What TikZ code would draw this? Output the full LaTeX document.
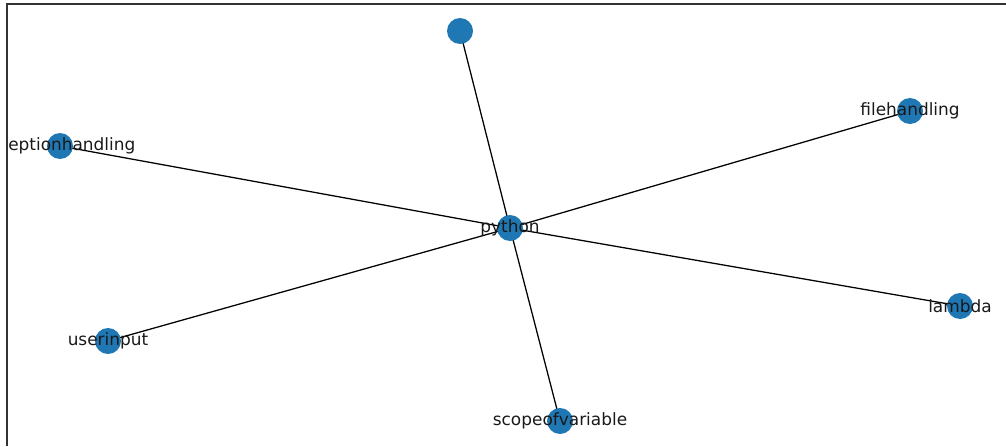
\documentclass[tikz,border=0pt]{standalone}
\usepackage{fontspec}
\setmainfont{DejaVu Sans}
\usetikzlibrary{backgrounds}
\definecolor{nodeblue}{HTML}{1F77B4}
\begin{document}
\begin{tikzpicture}[x=0.75pt,y=-0.75pt,
  vert/.style={circle,fill=nodeblue,draw=none,minimum size=19.5pt,inner sep=0pt},
  lbl/.style={font=\fontsize{12.7}{14}\selectfont,text=black!90,inner sep=0pt},
  edge/.style={draw=black,line width=0.95pt}]
  \useasboundingbox (0,0) rectangle (1006,446);
  % vertices
  \node[vert] (top) at (460,31) {};
  \node[vert] (exc) at (60,146) {};
  \node[vert] (file) at (910,111) {};
  \node[vert] (py) at (510,228) {};
  \node[vert] (user) at (108,341) {};
  \node[vert] (lam) at (960,306) {};
  \node[vert] (scope) at (560,421) {};
  % edges, kept behind the vertices
  \begin{scope}[on background layer]
    \foreach \v in {top,exc,file,user,lam,scope}
      \draw[edge] (py.center) -- (\v.center);
  \end{scope}
  % labels
  \node[lbl,anchor=west] (texc) at (8,146) {eptionhandling};
  \node[lbl] (tfile) at (910,111) {filehandling};
  \node[lbl] (tpy) at (510,228) {python};
  \node[lbl] (tuser) at (108,341) {userinput};
  \node[lbl] (tlam) at (960,306) {lambda};
  \node[lbl] (tscope) at (560,421) {scopeofvariable};
  % axes frame (left and top edges)
  \coordinate (fbl) at (7,446);
  \coordinate (ftl) at (7,4);
  \coordinate (ftr) at (1006,4);
  \draw[black!80,line width=0.9pt] (fbl) -- (ftl) -- (ftr);
\end{tikzpicture}
\end{document}
